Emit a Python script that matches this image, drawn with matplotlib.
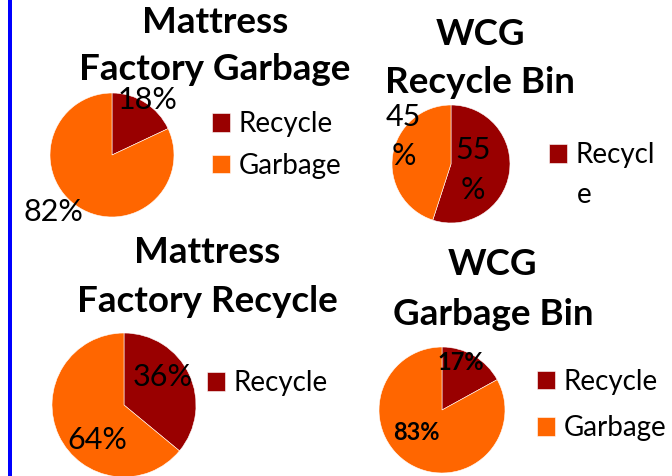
import matplotlib
matplotlib.use("Agg")
from matplotlib import pyplot as plt
from matplotlib.patches import Rectangle

plt.rcParams["font.family"] = ["Lato", "DejaVu Sans"]

W, H = 672, 476

# data
labels = ["Recycle", "Garbage"]
mf_garbage = [18, 82]
wcg_recycle = [55, 45]
mf_recycle = [36, 64]
wcg_garbage = [17, 83]
colors = ["#990000", "#FF6600"]

fig = plt.figure(figsize=(W / 100, H / 100), dpi=100)
fig.patch.set_facecolor("white")

# blue bar on the left edge
fig.add_artist(Rectangle((8 / W, 0), 3.5 / W, 1, transform=fig.transFigure,
                         color="#0000FF", lw=0))


def fx(px):
    return px / W


def fy(py):
    return 1 - py / H


def pie_panel(values, cx, cy, r, label_pos, fontsize=22, bold=False,
              wrap=False):
    ax = fig.add_axes([fx(cx - r), fy(cy + r), 2 * r / W, 2 * r / H])
    if wrap:
        fmt = lambda p: "%d\n%%" % round(p)
    else:
        fmt = lambda p: "%d%%" % round(p)
    wedges, _, autotexts = ax.pie(values, colors=colors, startangle=90,
                                  counterclock=False, radius=1, autopct=fmt,
                                  wedgeprops=dict(edgecolor="white", linewidth=0.4))
    for t, (x, y) in zip(autotexts, label_pos):
        t.set_position((x, y))
        t.set_fontsize(fontsize)
        t.set_color("black")
        t.set_linespacing(1.5)
        if bold:
            t.set_fontweight("bold")
    ax.set_xlim(-1, 1)
    ax.set_ylim(-1, 1)
    return wedges


def title(lines, cx, baselines):
    for txt, b in zip(lines, baselines):
        fig.text(fx(cx), fy(b), txt, ha="center", va="baseline",
                 fontsize=26.5, fontweight="bold")


def legend(handles, names, x, ycenter, spacing):
    fig.legend(handles, names, loc="center left",
               bbox_to_anchor=(fx(x), fy(ycenter)), frameon=False,
               fontsize=20, handlelength=0.65, handleheight=0.65,
               handletextpad=0.3, labelspacing=spacing, borderpad=0,
               borderaxespad=0)


# top left
w1 = pie_panel(mf_garbage, 112, 155, 62, [(0.58, 0.89), (-0.95, -0.92)])
title(["Mattress", "Factory Garbage"], 215, [33, 80])
legend(w1, labels, 212, 145, 0.55)

# top right: legend label wraps onto a second line
w2 = pie_panel(wcg_recycle, 451, 164, 59, [(0.37, -0.10), (-0.80, 0.47)],
               wrap=True)
title(["WCG", "Recycle Bin"], 480, [45, 93])
legend(w2[:1], ["Recycl"], 549, 155, 0.55)
fig.text(fx(577), fy(195), "e", ha="left", va="center", fontsize=20)

# bottom left
w3 = pie_panel(mf_recycle, 124, 405, 72, [(0.54, 0.39), (-0.375, -0.49)])
title(["Mattress", "Factory Recycle"], 207, [263, 312])
legend(w3[:1], labels[:1], 207, 383, 0.55)

# bottom right
w4 = pie_panel(wcg_garbage, 442, 410, 63, [(0.30, 0.76), (-0.41, -0.35)],
               fontsize=17, bold=True)
title(["WCG", "Garbage Bin"], 493, [275, 325])
legend(w4, labels, 537, 405, 0.75)

fig.savefig("out.png", dpi=100)
